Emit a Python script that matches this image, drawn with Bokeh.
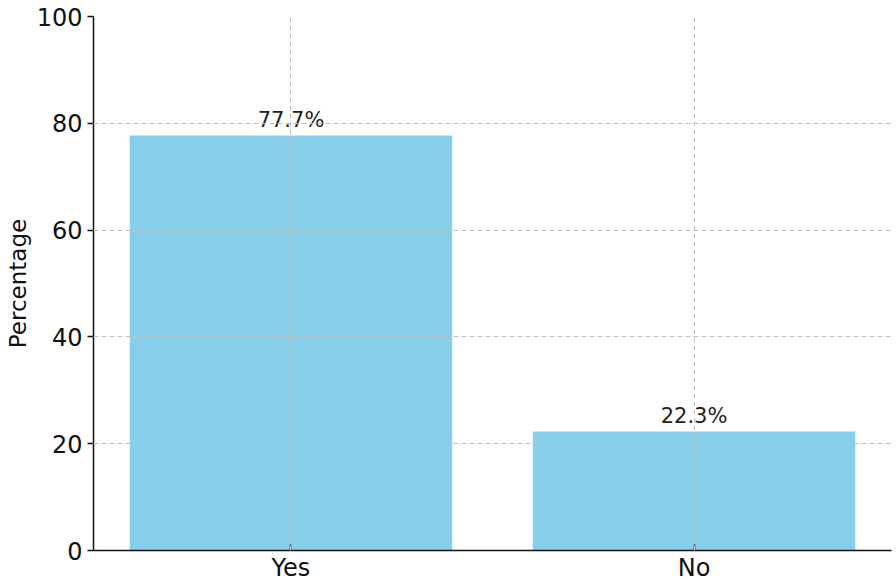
from bokeh.plotting import figure
from bokeh.models import FactorRange, Range1d, ColumnDataSource, FixedTicker
from bokeh.core.properties import value
from bokeh.embed import file_html
from bokeh.resources import INLINE

categories = ["Yes", "No"]
percentages = [77.7, 22.3]
labels = ["77.7%", "22.3%"]
y_ticks = [0, 20, 40, 60, 80, 100]

FONT = "DejaVu Sans"

p = figure(width=896, height=584, output_backend="svg", toolbar_location=None,
           x_range=FactorRange(factors=categories, range_padding=-0.01),
           y_range=Range1d(0, 100),
           min_border_left=93, min_border_right=5, min_border_top=16, min_border_bottom=34)
p.outline_line_color = None
p.background_fill_color = "white"
p.border_fill_color = "white"

src = ColumnDataSource(dict(cat=categories, val=percentages, lab=labels,
                            ly=[v + 0.6 for v in percentages]))
p.vbar(x="cat", top="val", width=0.8, source=src, fill_color="#87CEEB", line_color=None)
p.text(x="cat", y="ly", text="lab", source=src, text_align="center",
       text_baseline="bottom", text_font=value(FONT), text_font_size="21px",
       text_color="#222222")

for g in (p.xgrid, p.ygrid):
    g.grid_line_color = "#c0c0c0"
    g.grid_line_dash = "5 3"
    g.grid_line_width = 1
    g.level = "overlay"

p.yaxis.ticker = FixedTicker(ticks=y_ticks)
p.yaxis.axis_label = "Percentage"
p.yaxis.axis_label_text_font = FONT
p.yaxis.axis_label_text_font_size = "23px"
p.yaxis.axis_label_text_font_style = "normal"
p.yaxis.axis_label_text_color = "#111111"
p.yaxis.axis_label_standoff = 3

for ax in (p.xaxis, p.yaxis):
    ax.axis_line_color = "#111111"
    ax.axis_line_width = 1.5
    ax.major_tick_line_color = "#111111"
    ax.major_tick_line_width = 1.5
    ax.minor_tick_line_color = None
    ax.major_label_text_font = FONT
    ax.major_label_text_font_size = "24px"
    ax.major_label_text_color = "#111111"

p.yaxis.major_tick_out = 6
p.yaxis.major_tick_in = 0
p.yaxis.major_label_standoff = 5
p.xaxis.major_tick_out = 0
p.xaxis.major_tick_in = 6
p.xaxis.major_label_standoff = 3

open("out.html", "w").write(file_html(p, INLINE))
